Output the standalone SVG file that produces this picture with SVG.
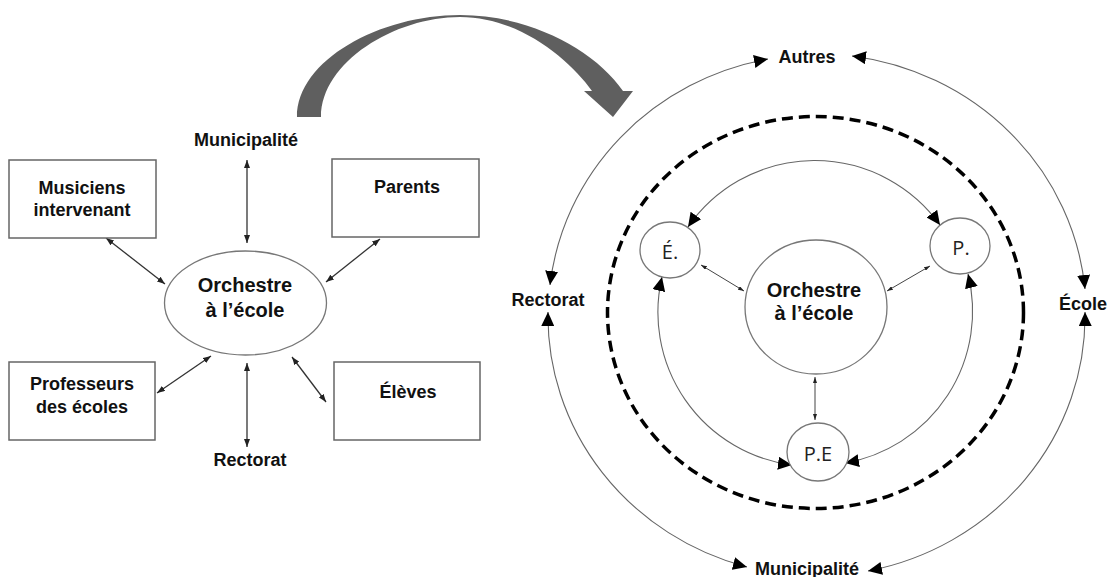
<svg xmlns="http://www.w3.org/2000/svg" width="1114" height="577" viewBox="0 0 1114 577">
<style>
.lbl{font-family:"Liberation Sans",Arial,sans-serif;font-weight:bold;font-size:18px;text-anchor:middle;fill:#111}
.orc{font-size:20px}
.nd{font-family:"Open Sans","Noto Sans",sans-serif;font-size:20px;text-anchor:middle;fill:#222}
.box{fill:#fff;stroke:#666;stroke-width:1.5}
.shape{fill:#fff;stroke:#777;stroke-width:1.3}
.lc{fill:none;stroke:#333;stroke-width:1.3;marker-start:url(#sm);marker-end:url(#sm)}
.rc{fill:none;stroke:#666;stroke-width:1.1;marker-start:url(#big);marker-end:url(#big)}
.tc{fill:none;stroke:#444;stroke-width:1;marker-start:url(#tiny);marker-end:url(#tiny)}
</style>
<defs>
<marker id="big" viewBox="0 0 14 13" markerWidth="14" markerHeight="13" refX="14" refY="6.5" orient="auto-start-reverse" markerUnits="userSpaceOnUse"><path d="M0,0 L14,6.5 L0,13 z" fill="#000"/></marker>
<marker id="sm" viewBox="0 0 8 6" markerWidth="8" markerHeight="6" refX="8" refY="3" orient="auto-start-reverse" markerUnits="userSpaceOnUse"><path d="M0,0 L8,3 L0,6 z" fill="#222"/></marker>
<marker id="tiny" viewBox="0 0 6 4" markerWidth="6" markerHeight="4" refX="6" refY="2" orient="auto-start-reverse" markerUnits="userSpaceOnUse"><path d="M0,0 L6,2 L0,4 z" fill="#222"/></marker>
</defs>
<rect width="1114" height="577" fill="#fff"/>

<!-- big transition arrow -->
<path id="bigarrow" d="M297,117 C297,60 380,15 460,15 C530,15 595,50 623,91 L633,91 L613,117 L584,91 L592,91 C570,60 520,17 460,17 C395,17 321,62 321,117 Z" fill="#5f5f5f"/>

<!-- left diagram connectors -->
<g id="left-connectors">
<line class="lc" x1="247" y1="160" x2="247" y2="243"/>
<line class="lc" x1="247" y1="363" x2="247" y2="447"/>
<line class="lc" x1="106" y1="238" x2="165" y2="284"/>
<line class="lc" x1="380" y1="239" x2="326" y2="282"/>
<line class="lc" x1="157" y1="393" x2="211" y2="356"/>
<line class="lc" x1="292" y1="357" x2="326" y2="402"/>
</g>

<!-- left diagram nodes -->
<g id="l-center"><ellipse class="shape" cx="245.5" cy="303" rx="81" ry="52"/><text class="lbl orc" x="245" y="292">Orchestre</text><text class="lbl orc" x="245" y="317">à l’école</text></g>
<g id="l-municipalite"><text class="lbl" x="246" y="146">Municipalité</text></g>
<g id="l-rectorat"><text class="lbl" x="250" y="466">Rectorat</text></g>
<g id="l-musiciens"><rect class="box" x="9" y="160" width="147" height="78"/><text class="lbl" x="82" y="194">Musiciens</text><text class="lbl" x="82" y="216">intervenant</text></g>
<g id="l-parents"><rect class="box" x="332" y="159" width="147" height="78"/><text class="lbl" x="407" y="193">Parents</text></g>
<g id="l-professeurs"><rect class="box" x="9" y="362" width="146" height="78"/><text class="lbl" x="82" y="390">Professeurs</text><text class="lbl" x="82" y="413">des écoles</text></g>
<g id="l-eleves"><rect class="box" x="334" y="362" width="146" height="78"/><text class="lbl" x="408" y="398">Élèves</text></g>

<!-- right diagram -->
<ellipse id="dashed-ring" cx="815.5" cy="312.5" rx="208" ry="196" fill="none" stroke="#000" stroke-width="3.5" stroke-dasharray="11,6"/>

<g id="right-connectors">
<path class="rc" d="M768,59 A270,260 0 0 0 550,285"/>
<path class="rc" d="M852,56 A270,260 0 0 1 1085,289"/>
<path class="rc" d="M548,312 A270,260 0 0 0 747,567"/>
<path class="rc" d="M1085,312 A270,260 0 0 1 868,571"/>
<path class="rc" d="M688,227 A154,154 0 0 1 940,225"/>
<path class="rc" d="M662,277 A154,154 0 0 0 792,465"/>
<path class="rc" d="M968,274 A154,154 0 0 1 845,463"/>
<line class="tc" x1="701" y1="265" x2="744" y2="291"/>
<line class="tc" x1="930" y1="266" x2="887" y2="291"/>
<line class="tc" x1="815" y1="377" x2="815" y2="420"/>
</g>

<g id="r-center"><ellipse class="shape" cx="816" cy="307" rx="71" ry="67"/><text class="lbl orc" x="814" y="297">Orchestre</text><text class="lbl orc" x="814" y="320">à l’école</text></g>
<g id="r-e"><ellipse class="shape" cx="670" cy="250" rx="30" ry="28"/><text class="nd" x="670" y="259">É.</text></g>
<g id="r-p"><ellipse class="shape" cx="960" cy="246" rx="30" ry="28"/><text class="nd" x="961" y="255">P.</text></g>
<g id="r-pe"><ellipse class="shape" cx="818" cy="452" rx="31" ry="29"/><text class="nd" x="818" y="461">P.E</text></g>
<g id="r-autres"><text class="lbl" x="807" y="63">Autres</text></g>
<g id="r-rectorat"><text class="lbl" x="548" y="306">Rectorat</text></g>
<g id="r-ecole"><text class="lbl" x="1083" y="310">École</text></g>
<g id="r-municipalite"><text class="lbl" x="807" y="575">Municipalité</text></g>
</svg>
